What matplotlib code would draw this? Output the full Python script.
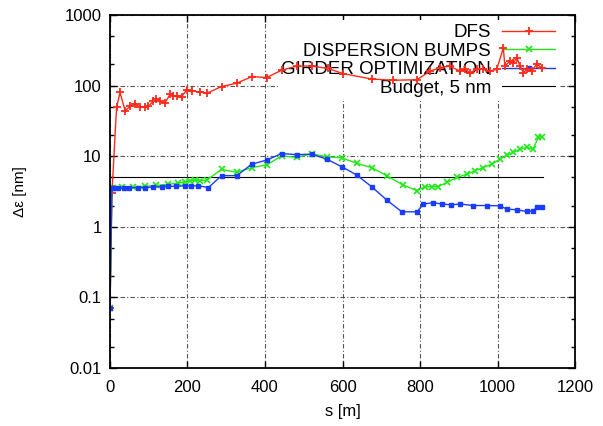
import matplotlib
matplotlib.use("Agg")
import matplotlib.pyplot as plt
from matplotlib.ticker import LogLocator, FixedLocator, NullFormatter

plt.rcParams["font.family"] = ["Liberation Sans", "DejaVu Sans"]

# ---------------------------------------------------------------------------
# Data
# ---------------------------------------------------------------------------
dfs_s = [0, 5, 17, 26, 39, 52, 65, 77, 90, 99, 112, 120, 129, 142, 155, 163,
         172, 185, 198, 211, 232, 250, 288, 327, 366, 404, 443, 482, 520, 563,
         601, 675, 731, 792, 826, 852, 877, 903, 916, 929, 946, 963, 981, 998,
         1015, 1019, 1032, 1041, 1050, 1058, 1067, 1075, 1088, 1101, 1114]
dfs_val = [0.07, 3.0, 49, 80, 44, 51, 54, 50, 50, 51, 60, 64, 60, 57, 75, 72,
           71, 70, 87, 84, 81, 78, 97, 108, 134, 130, 165, 189, 189, 175,
           148, 124, 119, 121, 160, 180, 189, 160, 170, 152, 170, 170, 160, 170,
           340, 189, 222, 211, 249, 189, 152, 170, 160, 200, 180]

bumps_s = [0, 5, 9, 30, 60, 90, 120, 150, 175, 194, 206, 219, 232, 250, 288,
           327, 366, 404, 443, 482, 520, 559, 598, 637, 675, 714, 757, 792, 813,
           830, 847, 869, 895, 921, 942, 963, 985, 1006, 1024, 1041, 1058, 1075,
           1092, 1105, 1114]
bumps_val = [0.07, 3.5, 3.6, 3.65, 3.7, 3.75, 3.85, 4.0, 4.15, 4.33, 4.47, 4.6,
             4.47, 4.6, 6.5, 5.9, 6.9, 7.5, 10.1, 9.6, 10.8, 9.8, 9.5, 7.9, 6.9,
             5.3, 3.9, 3.25, 3.7, 3.7, 3.7, 4.25, 5.0, 5.55, 6.2, 6.9, 7.7, 9.1,
             10.3, 11.3, 12.6, 13.3, 12.6, 18.4, 19]

girder_s = [0, 5, 9, 20, 35, 50, 73, 90, 110, 133, 150, 170, 194, 210, 228,
            254, 288, 327, 366, 404, 443, 482, 520, 559, 598, 637, 675, 714,
            753, 792, 809, 834, 856, 880, 903, 938, 972, 1006, 1024, 1050, 1075,
            1092, 1101, 1114]
girder_val = [0.07, 3.5, 3.6, 3.55, 3.5, 3.55, 3.6, 3.6, 3.65, 3.7, 3.75, 3.75,
              3.8, 3.8, 3.8, 3.6, 5.3, 5.3, 7.7, 8.8, 10.9, 10.5, 10.7, 9.1,
              7.1, 5.4, 3.7, 2.4, 1.63, 1.63, 2.1, 2.2, 2.1, 2.05, 2.1, 2.0,
              2.0, 1.98, 1.78, 1.74, 1.65, 1.68, 1.88, 1.88]

budget_s = [0, 1118]
budget_val = [5, 5]

x_ticks = [0, 200, 400, 600, 800, 1000, 1200]
y_ticks = [0.01, 0.1, 1, 10, 100, 1000]
y_ticklabels = ["0.01", "0.1", "1", "10", "100", "1000"]

# ---------------------------------------------------------------------------
# Figure
# ---------------------------------------------------------------------------
fig = plt.figure(figsize=(6.03, 4.26), dpi=100)
ax = fig.add_axes([0.1824, 0.1362, 0.7712, 0.8286])

ax.plot(dfs_s, dfs_val, "-", color="#ff2a1a", lw=1.0, marker="+",
        ms=6, mew=1.3, label="DFS", zorder=2)
ax.plot(bumps_s, bumps_val, "-", color="#22e81a", lw=1.0, marker="x",
        ms=4.5, mew=1.2, label="DISPERSION BUMPS", zorder=2)
ax.plot(girder_s, girder_val, "-", color="#1a3cff", lw=1.0, marker="s",
        ms=3.5, mew=1.0, label="GIRDER OPTIMIZATION", zorder=2.1)
ax.plot(budget_s, budget_val, "-", color="black", lw=0.8,
        label="Budget, 5 nm", zorder=1.8)

ax.set_yscale("log")
ax.set_xlim(0, 1200)
ax.set_ylim(0.01, 1000)
ax.xaxis.set_major_locator(FixedLocator(x_ticks))
ax.set_xticklabels([str(v) for v in x_ticks])
ax.yaxis.set_major_locator(FixedLocator(y_ticks))
ax.set_yticklabels(y_ticklabels)
ax.yaxis.set_minor_locator(LogLocator(base=10, subs=(2, 5)))
ax.yaxis.set_minor_formatter(NullFormatter())

ax.tick_params(which="both", direction="in", top=True, right=True,
               labelsize=12, width=1.0)
ax.tick_params(axis="x", pad=9)
ax.tick_params(axis="y", pad=6)
ax.tick_params(which="major", length=5)
ax.tick_params(which="minor", length=3)
for sp in ax.spines.values():
    sp.set_linewidth(1.3)

ax.set_axisbelow(True)
ax.grid(True, which="major", color="#555555", lw=0.8, linestyle=(0, (4, 2, 1, 2)))

ax.set_xlabel("s [m]", fontsize=12, labelpad=6)
ax.set_ylabel("Δε [nm]", fontsize=11, labelpad=27)

leg = ax.legend(loc="upper right", bbox_to_anchor=(0.965, 0.985),
                markerfirst=False, alignment="right", fontsize=13.5,
                frameon=True, facecolor="white", edgecolor="none",
                framealpha=1.0, fancybox=False, borderpad=0.2,
                labelspacing=0.08, handletextpad=0.6, handlelength=2.8,
                borderaxespad=0.0, numpoints=1)
leg.set_zorder(1.5)

fig.savefig("out.png", dpi=100)
